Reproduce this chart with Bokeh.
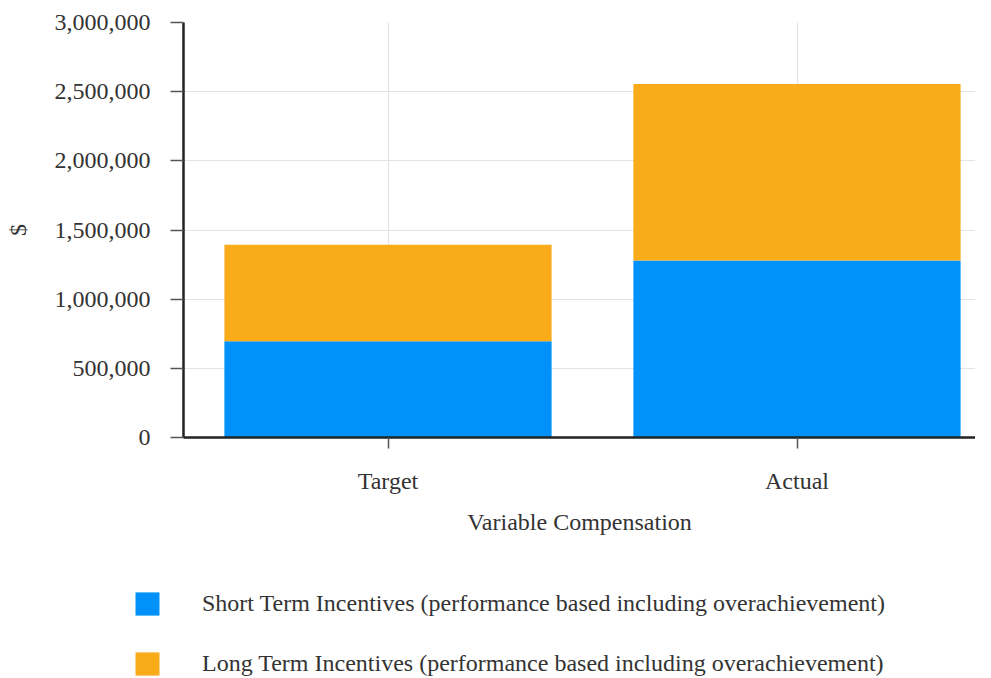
from bokeh.plotting import figure
from bokeh.layouts import column
from bokeh.models import (Range1d, FixedTicker, NumeralTickFormatter, Legend, LegendItem,
                          ColumnDataSource)
from bokeh.embed import file_html
from bokeh.resources import INLINE

categories = ["Target", "Actual"]
short_term = [695000, 1280000]
long_term = [698000, 1275000]
series_names = ["Short Term Incentives (performance based including overachievement)",
                "Long Term Incentives (performance based including overachievement)"]
y_ticks = [0, 500000, 1000000, 1500000, 2000000, 2500000, 3000000]
x_title = "Variable Compensation"
y_title = "$"

colors = ["#0092fa", "#f9ab1a"]
FONT = "Liberation Serif"
FS = "24px"

xpos = [i + 0.5 for i in range(len(categories))]
src = ColumnDataSource(dict(x=xpos, short=short_term, long=long_term))

p = figure(width=975, height=545, output_backend="svg", toolbar_location=None,
           x_range=Range1d(0, 792 / 409), y_range=Range1d(0, 3000000),
           min_border_left=183, min_border_top=22, min_border_right=0,
           min_border_bottom=108, frame_align=False)
p.outline_line_color = None

p.vbar_stack(["short", "long"], x="x", width=0.8, source=src,
             color=colors, line_color=None)

# axes
p.yaxis.ticker = FixedTicker(ticks=y_ticks)
p.yaxis.formatter = NumeralTickFormatter(format="0,0")
p.xaxis.ticker = FixedTicker(ticks=xpos)
p.xaxis.major_label_overrides = {x: c for x, c in zip(xpos, categories)}
p.xaxis.axis_label = x_title
p.yaxis.axis_label = y_title

for ax in (p.xaxis, p.yaxis):
    ax.axis_line_color = "#222222"
    ax.axis_line_width = 2.5
    ax.major_tick_line_color = "#555555"
    ax.major_tick_line_width = 1.5
    ax.major_tick_in = 0
    ax.minor_tick_line_color = None
    ax.major_label_text_font = FONT
    ax.major_label_text_font_size = FS
    ax.major_label_text_color = "#333333"
    ax.axis_label_text_font = FONT
    ax.axis_label_text_font_size = FS
    ax.axis_label_text_font_style = "normal"
    ax.axis_label_text_color = "#333333"

p.yaxis.major_tick_out = 13
p.yaxis.major_label_standoff = 20
p.yaxis.axis_label_standoff = 21
p.xaxis.major_tick_out = 11
p.xaxis.major_label_standoff = 19
p.xaxis.axis_label_standoff = 12

p.xgrid.ticker = FixedTicker(ticks=xpos)
p.xgrid.grid_line_color = "#e4e4e4"
p.ygrid.grid_line_color = "#e4e4e4"
p.xgrid.grid_line_width = 1.2
p.ygrid.grid_line_width = 1.2

# legend panel (separate figure below the chart; its bars lie outside its view)
lp = figure(width=975, height=133, output_backend="svg", toolbar_location=None,
            x_axis_type=None, y_axis_type=None,
            x_range=Range1d(10, 11), y_range=Range1d(1e7, 2e7),
            min_border_left=0, min_border_right=0, min_border_top=0, min_border_bottom=0,
            frame_align=False)
lp.outline_line_color = None
lp.grid.visible = False
lrs = lp.vbar_stack(["short", "long"], x="x", width=0.8, source=src,
                    color=colors, line_color=None)

legend = Legend(items=[LegendItem(label=n, renderers=[r]) for n, r in zip(series_names, lrs)],
                location=(132, 0), orientation="vertical",
                glyph_width=30, glyph_height=29, label_standoff=40,
                spacing=31, padding=0, margin=0,
                border_line_color=None, background_fill_alpha=0,
                label_text_font=FONT, label_text_font_size=FS,
                label_text_color="#333333")
lp.add_layout(legend, "center")

open("out.html", "w").write(file_html(column(p, lp, spacing=0), INLINE))
